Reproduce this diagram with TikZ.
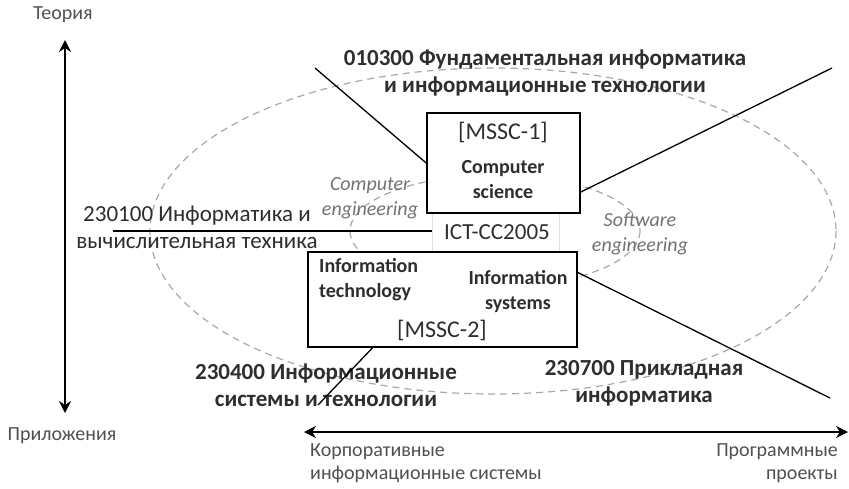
\documentclass[tikz,border=0pt]{standalone}
\usepackage{fontspec}
\setmainfont{Carlito}
\usepackage{tikz}
\usetikzlibrary{positioning,arrows.meta,calc}
\definecolor{txtdark}{HTML}{2E2E2E}
\definecolor{txtgray}{HTML}{505050}
\definecolor{ovalgray}{HTML}{A8A8A8}
\tikzset{
    box/.style = {
        draw,
        shape=rectangle,
        fill=white,
        line width=1.6pt,
        inner sep=0pt
    },
    faintbox/.style = {
        draw=black!12,
        shape=rectangle,
        fill=white,
        line width=0.6pt,
        inner sep=0pt,
        minimum width=127pt,
        minimum height=44pt
    },
    spec/.style = {
        align=center,
        inner sep=0pt,
        text=txtdark,
        font=\fontsize{23}{27}\selectfont\bfseries
    },
    plain/.style = {
        align=center,
        inner sep=0pt,
        text=txtdark,
        font=\fontsize{23}{27}\selectfont
    },
    inbox/.style = {
        inner sep=0pt,
        text=txtdark,
        font=\fontsize{20}{25}\selectfont\bfseries
    },
    area/.style = {
        align=center,
        inner sep=0pt,
        text=black!55,
        font=\fontsize{20}{25}\selectfont\itshape
    },
    axislbl/.style = {
        inner sep=0pt,
        text=txtgray,
        font=\fontsize{20}{23}\selectfont
    },
    oval/.style = {
        draw=ovalgray,
        dash pattern=on 7pt off 5pt,
        line width=1.2pt
    },
    link/.style = {
        draw,
        line width=1.3pt
    },
    axis/.style = {
        draw,
        line width=2.4pt,
        {Stealth[length=12pt,width=12pt,inset=4pt]}-{Stealth[length=12pt,width=12pt,inset=4pt]}
    },
}

\begin{document}
\begin{tikzpicture}[x=1pt,y=-1pt]
    \useasboundingbox[fill=white] (0,0) rectangle (849,488);

    % dashed areas
    \path[oval] (493,231) ellipse [x radius=343, y radius=163];
    \path[oval] (495,231) ellipse [x radius=145, y radius=56];

    % axes
    \node[axislbl] (theory) at (63,15) {Теория};
    \node[axislbl] (applic) at (62,436) {Приложения};
    \coordinate (vtop) at (65,40);
    \coordinate (vbot) at (65,413);
    \path[axis] (vtop) -- (vbot);

    \coordinate (hleft) at (304,432);
    \coordinate (hright) at (848,432);
    \path[axis] (hleft) -- (hright);
    \node[axislbl, align=left, anchor=north west] (corp) at (310,443) {Корпоративные\\информационные системы};
    \node[axislbl, align=right, anchor=north east] (progr) at (838,443) {Программные\\проекты};

    % boxes
    \node[faintbox] (ictbox) at (496,235) {};
    \node[plain] (ict) at (497,232) {ICT-CC2005};
    \node[box, minimum width=153pt, minimum height=100pt] (csbox) at (503.5,163) {};
    \node[plain, font=\fontsize{24}{27}\selectfont] (mssca) at (503,132) {[MSSC-1]};
    \node[inbox, align=center] (cslbl) at (503,180) {Computer\\science};
    \node[box, minimum width=269pt, minimum height=95pt] (isbox) at (442.5,299.5) {};
    \node[inbox, align=left, anchor=north west] (itlbl) at (319,258) {Information\\technology};
    \node[inbox, align=center] (islbl) at (518,292) {Information\\systems};
    \node[plain, font=\fontsize{24}{27}\selectfont] (msscb) at (442,330) {[MSSC-2]};

    % areas
    \node[area] (compeng) at (370,198) {Computer\\engineering};
    \node[area] (softeng) at (640,234) {Software\\engineering};

    % specialities
    \node[spec] (fund) at (545,73) {010300 Фундаментальная информатика\\и информационные технологии};
    \node[plain] (vt) at (197,227) {230100 Информатика и\\вычислительная техника};
    \node[spec] (ist) at (326,385) {230400 Информационные\\системы и технологии};
    \node[spec] (pi) at (644,383) {230700 Прикладная\\информатика};

    \coordinate (fundl) at (315,68);
    \coordinate (fundr) at (832,68);
    \coordinate (vtl) at (113,231);
    \coordinate (istl) at (318,405);
    \coordinate (pir) at (830,398);
    \path[link] (fundl) -- (csbox.west);
    \path[link] ([yshift=-29pt]csbox.east) -- (fundr);
    \path[link] (vtl) -- (vtl -| ictbox.west);
    \path[link] ([xshift=-70pt]isbox.south) -- (istl);
    \path[link] ([yshift=27pt]isbox.east) -- (pir);
\end{tikzpicture}
\end{document}
